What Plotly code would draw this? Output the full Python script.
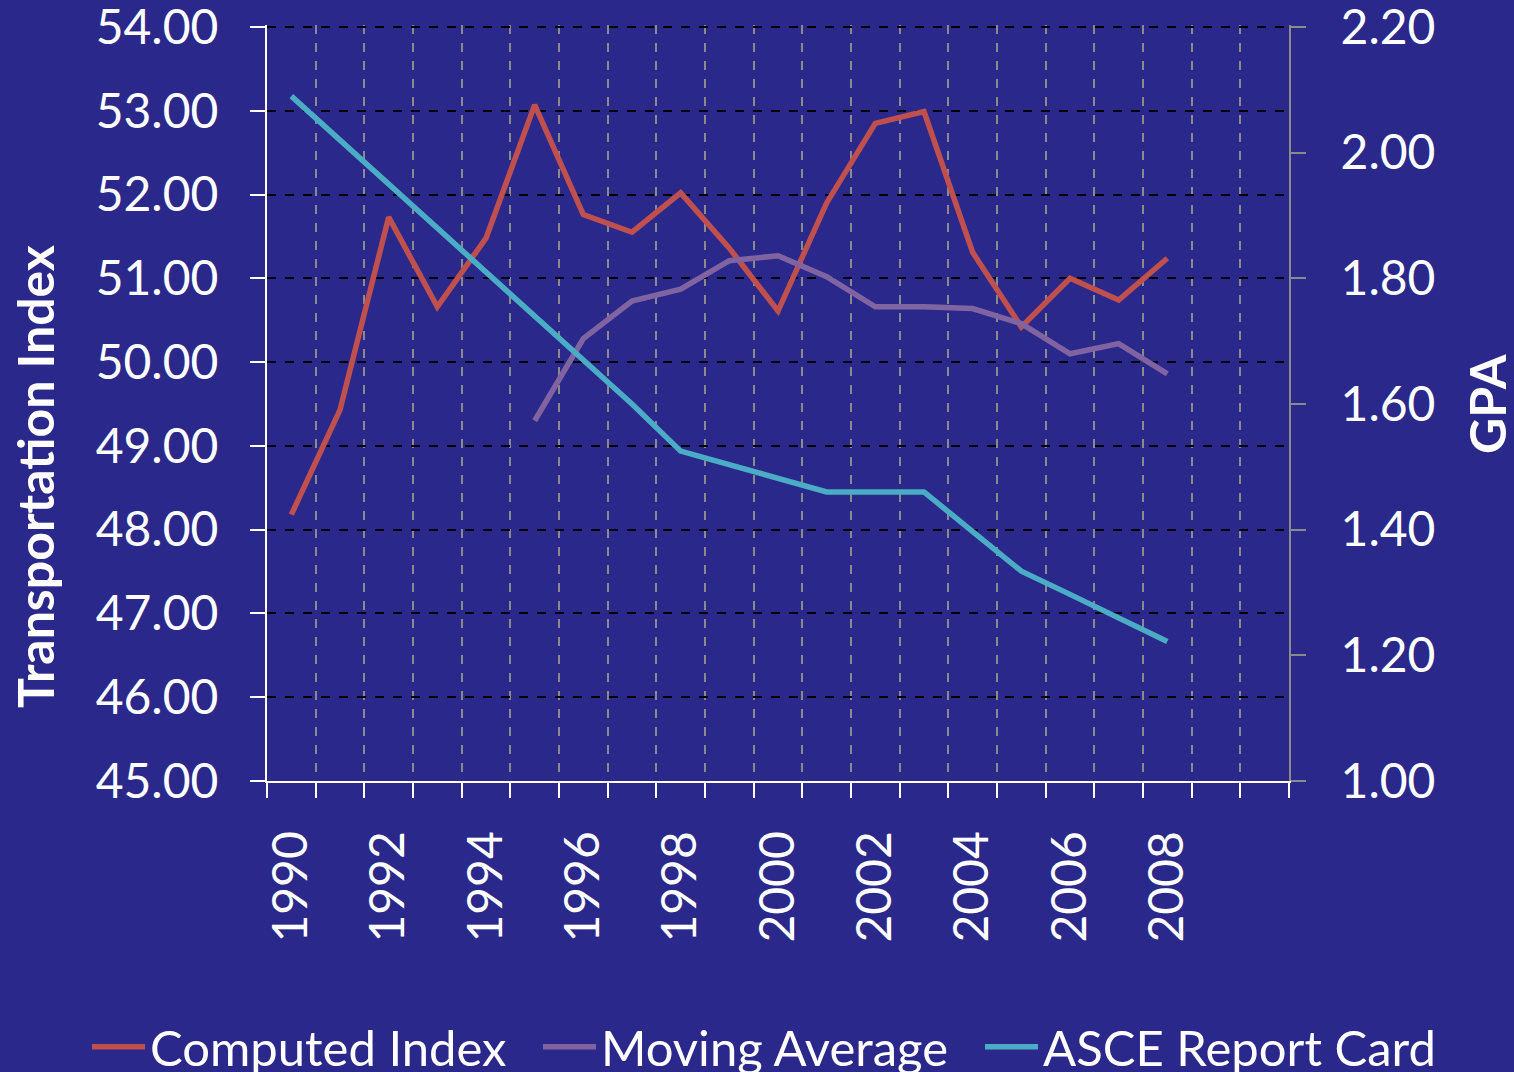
import plotly.graph_objects as go

# ---- data ----
years = [1990, 1991, 1992, 1993, 1994, 1995, 1996, 1997, 1998, 1999,
         2000, 2001, 2002, 2003, 2004, 2005, 2006, 2007, 2008]
computed_index = [48.18, 49.43, 51.73, 50.66, 51.48, 53.07, 51.76, 51.55, 52.02, 51.36,
                  50.61, 51.90, 52.85, 52.99, 51.31, 50.42, 51.00, 50.74, 51.24]
ma_years = [1995, 1996, 1997, 1998, 1999, 2000, 2001, 2002, 2003, 2004, 2005, 2006, 2007, 2008]
moving_average = [49.30, 50.28, 50.73, 50.87, 51.21, 51.27, 51.02, 50.66, 50.66, 50.64,
                  50.46, 50.10, 50.22, 49.86]
asce_gpa = [2.09, 2.02, 1.95, 1.88, 1.81, 1.74, 1.67, 1.60, 1.525, 1.504,
            1.482, 1.46, 1.46, 1.46, 1.397, 1.334, 1.297, 1.259, 1.222]
x_tick_labels = ["1990", "1992", "1994", "1996", "1998", "2000", "2002", "2004", "2006", "2008"]
x_tick_vals = [1990, 1992, 1994, 1996, 1998, 2000, 2002, 2004, 2006, 2008]
left_ticks = [45, 46, 47, 48, 49, 50, 51, 52, 53, 54]
right_ticks = [1.0, 1.2, 1.4, 1.6, 1.8, 2.0, 2.2]

BG = "#2B288B"
FONT = "Lato"
WHITE = "#FFFFFF"
FS = 48
PAD = 0.024  # small headroom so the top gridline is drawn

fig = go.Figure()
fig.add_trace(go.Scatter(x=years, y=computed_index, name="Computed Index", mode="lines",
                         line=dict(color="#C0504D", width=5.5), legend="legend"))
fig.add_trace(go.Scatter(x=ma_years, y=moving_average, name="Moving Average", mode="lines",
                         line=dict(color="#8064A2", width=5.5), legend="legend2"))
fig.add_trace(go.Scatter(x=years, y=asce_gpa, name="ASCE Report Card", mode="lines",
                         line=dict(color="#4BACC6", width=5.5), yaxis="y2", legend="legend3"))

def leg(xpx):
    return dict(orientation="h", xref="container", yref="container",
                x=xpx / 1514, xanchor="left", y=(1072 - 1047) / 1072, yanchor="middle",
                font=dict(family=FONT, size=49, color=WHITE),
                itemwidth=53, bgcolor="rgba(0,0,0,0)", borderwidth=0)

fig.update_layout(
    width=1514, height=1072,
    paper_bgcolor=BG, plot_bgcolor=BG,
    margin=dict(l=267, r=225, t=25, b=291, autoexpand=False),
    font=dict(family=FONT, color=WHITE, size=FS),
    showlegend=True,
    legend=leg(87), legend2=leg(538), legend3=leg(980),
    xaxis=dict(
        range=[1989.5, 2010.5], tickmode="array", tickvals=x_tick_vals, ticktext=x_tick_labels,
        tickangle=-90, ticks="outside", ticklen=15, tickcolor="rgba(0,0,0,0)",
        ticklabelstandoff=14, automargin=False,
        showgrid=False, zeroline=False,
        showline=True, linecolor=WHITE, linewidth=2,
        tickfont=dict(family=FONT, size=FS, color=WHITE),
        minor=dict(tick0=1989.5, dtick=1, ticks="outside", ticklen=15, tickwidth=2,
                   tickcolor=WHITE, showgrid=True, gridcolor="#8A8A8A", griddash="dash",
                   gridwidth=2),
    ),
    yaxis=dict(
        range=[44.9999, 54 + PAD], tickmode="array", tickvals=left_ticks,
        tickformat=".2f", ticks="outside", ticklen=15, tickwidth=2, tickcolor=WHITE,
        ticklabelstandoff=22, ticklabeloverflow="allow", automargin=False,
        showline=True, linecolor=WHITE, linewidth=2,
        showgrid=True, gridcolor="#000000", griddash="dash", gridwidth=2,
        zeroline=False,
        tickfont=dict(family=FONT, size=FS, color=WHITE),
    ),
    yaxis2=dict(
        range=[0.99999, 2.2 + PAD * 1.2 / 9], tickmode="array", tickvals=right_ticks,
        overlaying="y", side="right",
        tickformat=".2f", ticks="outside", ticklen=15, tickwidth=2, tickcolor="#8A8A8A",
        ticklabelstandoff=25, ticklabeloverflow="allow", automargin=False,
        showline=True, linecolor="#8A8A8A", linewidth=2,
        showgrid=False, zeroline=False,
        tickfont=dict(family=FONT, size=FS, color=WHITE),
    ),
)

fig.add_annotation(text="<b>Transportation Index</b>", xref="paper", yref="paper",
                   x=(35 - 267) / 1022, y=(781 - 477) / 756, textangle=-90, showarrow=False,
                   font=dict(family=FONT, size=50, color=WHITE), xanchor="center", yanchor="middle")
fig.add_annotation(text="<b>GPA</b>", xref="paper", yref="paper",
                   x=(1487 - 267) / 1022, y=(781 - 404) / 756, textangle=-90, showarrow=False,
                   font=dict(family=FONT, size=50, color=WHITE), xanchor="center", yanchor="middle")

fig.write_html("out.html",
               config={"displayModeBar": False},
               post_script="document.body.style.margin='0';document.body.style.padding='0';"
                           "document.body.style.background='#2B288B';"
                           "document.documentElement.style.overflow='hidden';")
